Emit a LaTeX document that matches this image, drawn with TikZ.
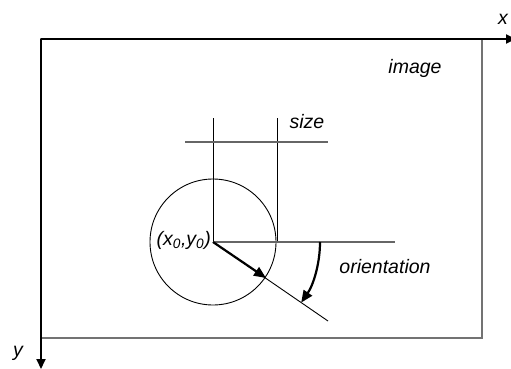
\documentclass[tikz,border=0pt]{standalone}
\usepackage{fontspec}
\setmainfont{Liberation Sans}
\usetikzlibrary{arrows.meta}
\begin{document}
\begin{tikzpicture}[x=1pt,y=-1pt,
  axis/.style={line width=1.8pt,black,-{Triangle[length=10pt,width=9pt]}},
  frame/.style={line width=1.4pt,black!55},
  thin/.style={line width=0.9pt,black},
  thingray/.style={line width=1.1pt,black!60},
  bold/.style={line width=2.2pt,black,-{Triangle[length=12pt,width=10pt]}},
  lbl/.style={font=\fontsize{19.5}{22}\selectfont\itshape,inner sep=0pt}]
\useasboundingbox (0,0) rectangle (511,369);
\coordinate (O) at (41,39);
\coordinate (xe) at (516,39);
\coordinate (ye) at (41,369);
\coordinate (R) at (482,338);
\coordinate (C) at (213,242);
\coordinate (s1t) at (213,118);
\coordinate (s2t) at (277,118);
\coordinate (s2b) at (277,242);
\coordinate (sl) at (185,142);
\coordinate (sr) at (328,142);
\coordinate (hr) at (395,242);
\coordinate (dg) at (328,321);
\coordinate (at) at (266,278);
\coordinate (as) at (320,242);
% image frame
\draw[frame] (O) rectangle (R);
% axes
\draw[axis] (O) -- (xe);
\draw[axis] (O) -- (ye);
% size construction
\draw[thin] (s1t) -- (C);
\draw[thin] (s2t) -- (s2b);
\draw[thingray] (sl) -- (sr);
% circle
\draw[thin] (C) circle[radius=63];
% orientation lines
\draw[thingray] (C) -- (hr);
\draw[thin] (C) -- (dg);
\draw[bold] (C) -- (at);
\draw[bold] (as) arc[start angle=0,end angle=34.5,radius=107];
% labels
\node[lbl] (xl) at (503,19) {x};
\node[lbl] (yl) at (18,353) {y};
\node[lbl] (im) at (415,68) {image};
\node[lbl] (sz) at (307,122) {size};
\node[lbl,anchor=east] (c0) at (211,240) {(x\textsubscript{0},y\textsubscript{0})};
\node[lbl] (or) at (385,267) {orientation};
\end{tikzpicture}
\end{document}
